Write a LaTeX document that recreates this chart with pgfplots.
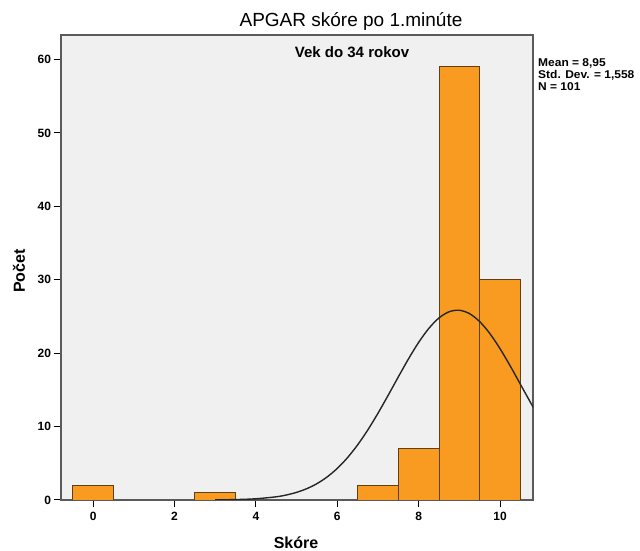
\documentclass[border=0pt]{standalone}
\usepackage{pgfplots}
\pgfplotsset{compat=1.18}
\usepackage{fontspec}
\setmainfont{Liberation Sans}
\newfontfamily\statfont[FakeStretch=1.06]{Liberation Sans}
\definecolor{barfill}{HTML}{F99B21}
\definecolor{baredge}{HTML}{5E4018}
\definecolor{bgpanel}{HTML}{F0F0F0}
\definecolor{frame}{HTML}{5A5A5A}
\newcommand{\fs}[1]{\fontsize{#1bp}{#1bp}\selectfont}
\begin{document}
\begin{tikzpicture}[x=1bp,y=1bp]
\useasboundingbox (0,0) rectangle (640,551);
\begin{axis}[
  at={(61bp,51bp)}, anchor=south west,
  scale only axis, width=472bp, height=465bp,
  xmin=-0.79, xmax=10.81, ymin=0, ymax=63.35,
  axis background/.style={fill=bgpanel},
  axis line style={frame, line width=1.3bp},
  xtick={0,2,...,10}, ytick={0,10,...,60},
  xtick pos=bottom, ytick pos=left,
  tick align=outside, major tick length=7.5bp,
  tick style={black, line width=1bp},
  /pgf/number format/assume math mode=true,
  ticklabel style={font=\bfseries\fs{12}},
  xticklabel style={yshift=-1bp},
  yticklabel style={xshift=1bp},
  clip=true,
]
\addplot[ybar, bar width=1, bar shift=0, fill=barfill, draw=baredge, line width=0.9bp]
  coordinates {(0,2) (3,1) (7,2) (8,7) (9,59) (10,30)};
\addplot[smooth, black!85, line width=1.4bp, mark=none] coordinates {
  (3.0,0.018) (3.5,0.057) (4.0,0.166) (4.5,0.438) (4.75,0.683) (5.0,1.040)
  (5.25,1.542) (5.5,2.227) (5.75,3.138) (6.0,4.307) (6.25,5.762) (6.5,7.511)
  (6.75,9.543) (7.0,11.816) (7.25,14.261) (7.5,16.771) (7.75,19.226) (8.0,21.476)
  (8.25,23.380) (8.5,24.805) (8.75,25.650) (9.0,25.849) (9.25,25.387) (9.5,24.300)
  (9.75,22.668) (10.0,20.609) (10.25,18.260) (10.5,15.766) (10.75,13.270) (10.85,12.295)};
\end{axis}
\node[font=\fs{19}] at (351,530) {APGAR skóre po 1.minúte};
\node[font=\bfseries\fs{15}] at (352,499) {Vek do 34 rokov};
\begin{scope}[every node/.style={font=\statfont\bfseries\fs{11.3}, anchor=base west, inner sep=0pt}]
\node at (538,484) {Mean = 8,95};
\node at (538,472) {Std. Dev. = 1,558};
\node at (538,460) {N = 101};
\end{scope}
\node[font=\bfseries\fs{16}, rotate=90] at (19,280) {Počet};
\node[font=\bfseries\fs{16}] at (296,8) {Skóre};
\end{tikzpicture}
\end{document}
